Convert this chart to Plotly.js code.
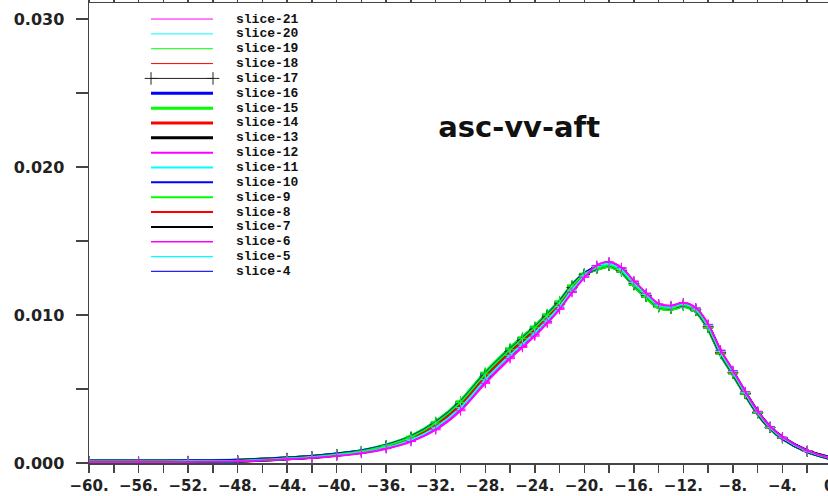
<!DOCTYPE html>
<html>
<head>
<meta charset="utf-8">
<script src="https://cdn.plot.ly/plotly-3.0.1.min.js"></script>
<style>
  html, body { margin: 0; padding: 0; width: 828px; height: 496px; overflow: hidden; background: #fff; }
  #chart { width: 840px; height: 496px; }
</style>
</head>
<body>
<div id="chart"></div>
<script>
// ---------- data ----------
const xValues = [-60,-56,-52,-48,-44,-42,-40,-38,-36,-34,-32,-30,-28,-26,-25,-24,-23,-22,-21,-20,-19,-18,-17,-16,-15,-14,-13,-12,-11,-10,-9,-8,-7,-6,-5,-4,-2,0];

const slice4  = [0.00011,0.00011,0.00012,0.00016,0.00032,0.00042,0.00058,0.00080,0.00117,0.00175,0.00270,0.00409,0.00601,0.00765,0.00840,0.00914,0.00998,0.01086,0.01194,0.01278,0.01330,0.01350,0.01310,0.01220,0.01135,0.01065,0.01055,0.01075,0.01040,0.00925,0.00750,0.00615,0.00472,0.00342,0.00241,0.00171,0.00080,0.00030];
const slice5  = [0.00010,0.00010,0.00011,0.00015,0.00031,0.00041,0.00056,0.00077,0.00112,0.00168,0.00260,0.00396,0.00587,0.00752,0.00827,0.00901,0.00986,0.01075,0.01185,0.01273,0.01322,0.01342,0.01302,0.01212,0.01130,0.01058,0.01048,0.01068,0.01033,0.00918,0.00745,0.00610,0.00470,0.00340,0.00240,0.00170,0.00080,0.00030];
const slice6  = [0.00008,0.00008,0.00009,0.00013,0.00028,0.00037,0.00051,0.00069,0.00101,0.00152,0.00235,0.00365,0.00552,0.00718,0.00794,0.00870,0.00956,0.01049,0.01161,0.01260,0.01330,0.01355,0.01318,0.01225,0.01142,0.01070,0.01058,0.01078,0.01045,0.00932,0.00758,0.00620,0.00478,0.00346,0.00244,0.00173,0.00082,0.00031];
const slice7  = [0.00012,0.00012,0.00013,0.00017,0.00032,0.00043,0.00059,0.00081,0.00119,0.00178,0.00275,0.00415,0.00608,0.00772,0.00846,0.00920,0.01004,0.01091,0.01199,0.01280,0.01312,0.01330,0.01290,0.01200,0.01120,0.01052,0.01042,0.01062,0.01028,0.00912,0.00738,0.00604,0.00465,0.00336,0.00237,0.00168,0.00079,0.00030];
const slice8  = [0.00011,0.00011,0.00012,0.00016,0.00032,0.00042,0.00058,0.00079,0.00116,0.00173,0.00268,0.00406,0.00597,0.00762,0.00836,0.00911,0.00995,0.01083,0.01192,0.01276,0.01318,0.01338,0.01298,0.01208,0.01128,0.01058,0.01048,0.01068,0.01033,0.00918,0.00744,0.00610,0.00470,0.00340,0.00240,0.00170,0.00080,0.00030];
const slice9  = [0.00013,0.00013,0.00014,0.00018,0.00033,0.00044,0.00061,0.00083,0.00121,0.00182,0.00281,0.00421,0.00615,0.00779,0.00853,0.00926,0.01009,0.01097,0.01204,0.01283,0.01310,0.01332,0.01292,0.01203,0.01122,0.01055,0.01044,0.01064,0.01030,0.00915,0.00740,0.00606,0.00467,0.00338,0.00238,0.00169,0.00079,0.00030];
const slice10 = [0.00012,0.00012,0.00013,0.00017,0.00032,0.00043,0.00059,0.00080,0.00118,0.00177,0.00273,0.00412,0.00604,0.00768,0.00843,0.00917,0.01001,0.01089,0.01197,0.01279,0.01320,0.01340,0.01302,0.01214,0.01134,0.01064,0.01052,0.01070,0.01036,0.00920,0.00746,0.00611,0.00471,0.00341,0.00240,0.00170,0.00080,0.00030];
const slice11 = [0.00009,0.00009,0.00010,0.00014,0.00029,0.00039,0.00053,0.00073,0.00107,0.00160,0.00247,0.00381,0.00570,0.00735,0.00810,0.00886,0.00971,0.01062,0.01173,0.01266,0.01324,0.01345,0.01305,0.01215,0.01135,0.01063,0.01052,0.01072,0.01038,0.00925,0.00750,0.00614,0.00474,0.00343,0.00242,0.00171,0.00081,0.00030];
const slice12 = [0.00008,0.00008,0.00009,0.00012,0.00027,0.00036,0.00050,0.00068,0.00099,0.00149,0.00230,0.00359,0.00545,0.00711,0.00787,0.00864,0.00951,0.01043,0.01156,0.01257,0.01332,0.01355,0.01316,0.01226,0.01144,0.01072,0.01060,0.01080,0.01046,0.00934,0.00760,0.00622,0.00480,0.00348,0.00246,0.00174,0.00082,0.00031];
const slice13 = [0.00011,0.00011,0.00012,0.00016,0.00031,0.00042,0.00057,0.00078,0.00114,0.00172,0.00265,0.00402,0.00594,0.00758,0.00833,0.00908,0.00992,0.01081,0.01189,0.01275,0.01312,0.01332,0.01292,0.01202,0.01122,0.01052,0.01042,0.01062,0.01027,0.00912,0.00738,0.00603,0.00465,0.00336,0.00237,0.00168,0.00079,0.00030];
const slice14 = [0.00010,0.00010,0.00011,0.00015,0.00031,0.00041,0.00057,0.00077,0.00113,0.00170,0.00263,0.00399,0.00590,0.00755,0.00830,0.00904,0.00989,0.01078,0.01187,0.01274,0.01315,0.01335,0.01296,0.01206,0.01126,0.01056,0.01046,0.01066,0.01031,0.00916,0.00742,0.00607,0.00468,0.00338,0.00238,0.00169,0.00079,0.00030];
const slice15 = [0.00012,0.00012,0.00013,0.00017,0.00032,0.00043,0.00059,0.00081,0.00119,0.00178,0.00275,0.00415,0.00608,0.00772,0.00846,0.00920,0.01004,0.01091,0.01199,0.01280,0.01310,0.01330,0.01290,0.01200,0.01120,0.01050,0.01040,0.01060,0.01025,0.00910,0.00736,0.00602,0.00464,0.00335,0.00236,0.00167,0.00078,0.00029];
const slice16 = [0.00011,0.00011,0.00012,0.00016,0.00032,0.00042,0.00058,0.00079,0.00116,0.00173,0.00268,0.00406,0.00597,0.00762,0.00836,0.00911,0.00995,0.01083,0.01192,0.01276,0.01320,0.01340,0.01300,0.01212,0.01132,0.01062,0.01050,0.01070,0.01035,0.00920,0.00746,0.00610,0.00470,0.00340,0.00240,0.00170,0.00080,0.00030];
const slice17 = [0.00010,0.00010,0.00011,0.00015,0.00031,0.00041,0.00056,0.00077,0.00112,0.00168,0.00260,0.00396,0.00587,0.00752,0.00827,0.00901,0.00986,0.01075,0.01185,0.01273,0.01320,0.01340,0.01300,0.01210,0.01130,0.01060,0.01050,0.01070,0.01035,0.00920,0.00745,0.00610,0.00470,0.00340,0.00240,0.00170,0.00080,0.00030];
const slice18 = [0.00010,0.00010,0.00011,0.00015,0.00030,0.00040,0.00055,0.00075,0.00110,0.00165,0.00255,0.00390,0.00580,0.00745,0.00820,0.00895,0.00980,0.01070,0.01180,0.01270,0.01318,0.01338,0.01300,0.01210,0.01128,0.01058,0.01048,0.01068,0.01034,0.00919,0.00744,0.00609,0.00469,0.00339,0.00239,0.00170,0.00080,0.00030];
const slice19 = [0.00011,0.00011,0.00012,0.00016,0.00032,0.00042,0.00058,0.00080,0.00117,0.00175,0.00270,0.00409,0.00601,0.00765,0.00840,0.00914,0.00998,0.01086,0.01194,0.01278,0.01316,0.01336,0.01296,0.01206,0.01126,0.01056,0.01046,0.01066,0.01032,0.00916,0.00742,0.00607,0.00468,0.00338,0.00238,0.00169,0.00079,0.00030];
const slice20 = [0.00009,0.00009,0.00010,0.00013,0.00028,0.00038,0.00052,0.00071,0.00104,0.00157,0.00242,0.00374,0.00563,0.00728,0.00804,0.00879,0.00965,0.01057,0.01168,0.01264,0.01326,0.01346,0.01308,0.01218,0.01138,0.01066,0.01055,0.01075,0.01040,0.00928,0.00753,0.00617,0.00476,0.00344,0.00243,0.00172,0.00081,0.00031];
const slice21 = [0.00007,0.00007,0.00008,0.00012,0.00026,0.00035,0.00048,0.00066,0.00097,0.00145,0.00224,0.00353,0.00538,0.00705,0.00781,0.00857,0.00945,0.01038,0.01152,0.01255,0.01335,0.01358,0.01320,0.01230,0.01148,0.01075,0.01063,0.01082,0.01048,0.00937,0.00763,0.00625,0.00482,0.00350,0.00247,0.00175,0.00083,0.00031];

// legend order (top to bottom)
const sliceNames = ["slice-21","slice-20","slice-19","slice-18","slice-17","slice-16","slice-15","slice-14","slice-13","slice-12","slice-11","slice-10","slice-9","slice-8","slice-7","slice-6","slice-5","slice-4"];
const sliceSeries = [slice21,slice20,slice19,slice18,slice17,slice16,slice15,slice14,slice13,slice12,slice11,slice10,slice9,slice8,slice7,slice6,slice5,slice4];
const sliceColors = ["#ff00ff","#00ffff","#00ff00","#ff0000","#222222","#0000ff","#00ff00","#ff0000","#000000","#ff00ff","#00ffff","#0000ff","#00ff00","#ff0000","#000000","#ff00ff","#00ffff","#2222ff"];
const sliceWidths = [1,1,1,1,1,3,3,3,3,2,2,2,2,2,2,1.3,1.3,1.3];
const sliceMarked = [false,false,false,false,true,false,false,false,false,false,false,false,false,false,false,false,false,false];

const xTickVals = [-60,-56,-52,-48,-44,-40,-36,-32,-28,-24,-20,-16,-12,-8,-4,0];
const xTickText = ["\u221260.","\u221256.","\u221252.","\u221248.","\u221244.","\u221240.","\u221236.","\u221232.","\u221228.","\u221224.","\u221220.","\u221216.","\u221212.","\u22128.","\u22124.","0."];
const yTickVals = [0, 0.01, 0.02, 0.03];
const yTickText = ["0.000","0.010","0.020","0.030"];
const chartTitle = "asc-vv-aft";

// ---------- traces ----------
const traces = [];
for (let k = sliceNames.length - 1; k >= 0; k--) {
  traces.push({
    type: 'scatter',
    x: xValues,
    y: sliceSeries[k],
    name: sliceNames[k],
    mode: 'lines+markers',
    line: { color: sliceColors[k], width: sliceWidths[k] + 0.8, shape: 'spline', smoothing: 0.8 },
    marker: sliceMarked[k]
      ? { symbol: 'cross-thin', size: 8, line: { width: 1, color: sliceColors[k] } }
      : { symbol: 'cross-thin', size: 7, line: { width: 1, color: sliceColors[k] } },
    showlegend: false,
    hoverinfo: 'skip'
  });
}

// custom legend on hidden overlay axes
const annotations = [];
for (let i = 0; i < sliceNames.length; i++) {
  const t = {
    type: 'scatter',
    x: [0, 1],
    y: [-i, -i],
    xaxis: 'x2', yaxis: 'y2',
    mode: sliceMarked[i] ? 'lines+markers' : 'lines',
    line: { color: sliceColors[i], width: sliceWidths[i] },
    showlegend: false,
    hoverinfo: 'skip'
  };
  if (sliceMarked[i]) {
    t.marker = { symbol: 'cross-thin', size: 9, line: { width: 1, color: sliceColors[i] } };
  }
  traces.push(t);
  annotations.push({
    xref: 'x2', yref: 'y2', x: 1.34, y: -i,
    text: sliceNames[i], showarrow: false,
    xanchor: 'left', yanchor: 'middle',
    font: { family: 'Liberation Mono', size: 13, weight: 'bold', color: '#111' }
  });
}

const axisColor = '#444';
const layout = {
  width: 840, height: 496,
  margin: { l: 89, r: 8, t: 3, b: 33 },
  paper_bgcolor: '#fff', plot_bgcolor: '#fff',
  showlegend: false,
  title: {
    text: chartTitle,
    font: { family: 'DejaVu Sans', size: 29, weight: 'bold', color: '#111' },
    xref: 'container', yref: 'container',
    x: 0.618, y: 0.744, xanchor: 'center', yanchor: 'middle'
  },
  xaxis: {
    range: [-60, 0], tickmode: 'array', tickvals: xTickVals, ticktext: xTickText,
    ticks: 'outside', ticklen: 8, tickwidth: 1.5, tickcolor: axisColor,
    showline: true, linecolor: axisColor, linewidth: 1.5, mirror: 'ticks',
    showgrid: false, zeroline: false, ticklabelstandoff: 0, ticklabeloverflow: 'allow',
    tickfont: { family: 'DejaVu Sans', size: 15, weight: 'bold', color: '#222' },
    minor: { tickmode: 'linear', tick0: 0, dtick: 2, ticks: 'outside', ticklen: 8, tickwidth: 1.5, tickcolor: axisColor, showgrid: false }
  },
  yaxis: {
    range: [0, 0.03108], tickmode: 'array', tickvals: yTickVals, ticktext: yTickText,
    ticks: 'outside', ticklen: 12, tickwidth: 1.5, tickcolor: axisColor,
    showline: true, linecolor: axisColor, linewidth: 1.5, mirror: 'ticks',
    showgrid: false, zeroline: false, ticklabelstandoff: 8,
    tickfont: { family: 'DejaVu Sans', size: 16, weight: 'bold', color: '#222' },
    minor: { tickmode: 'linear', tick0: 0, dtick: 0.005, ticks: 'outside', ticklen: 12, tickwidth: 1.5, tickcolor: axisColor, showgrid: false }
  },
  xaxis2: { overlaying: 'x', anchor: 'y2', range: [-1.0, 10.984], visible: false, fixedrange: true },
  yaxis2: { overlaying: 'y', anchor: 'x2', range: [-29.9, 1.08], visible: false, fixedrange: true },
  annotations: annotations
};

Plotly.newPlot('chart', traces, layout, { staticPlot: true, displayModeBar: false });
</script>
</body>
</html>
